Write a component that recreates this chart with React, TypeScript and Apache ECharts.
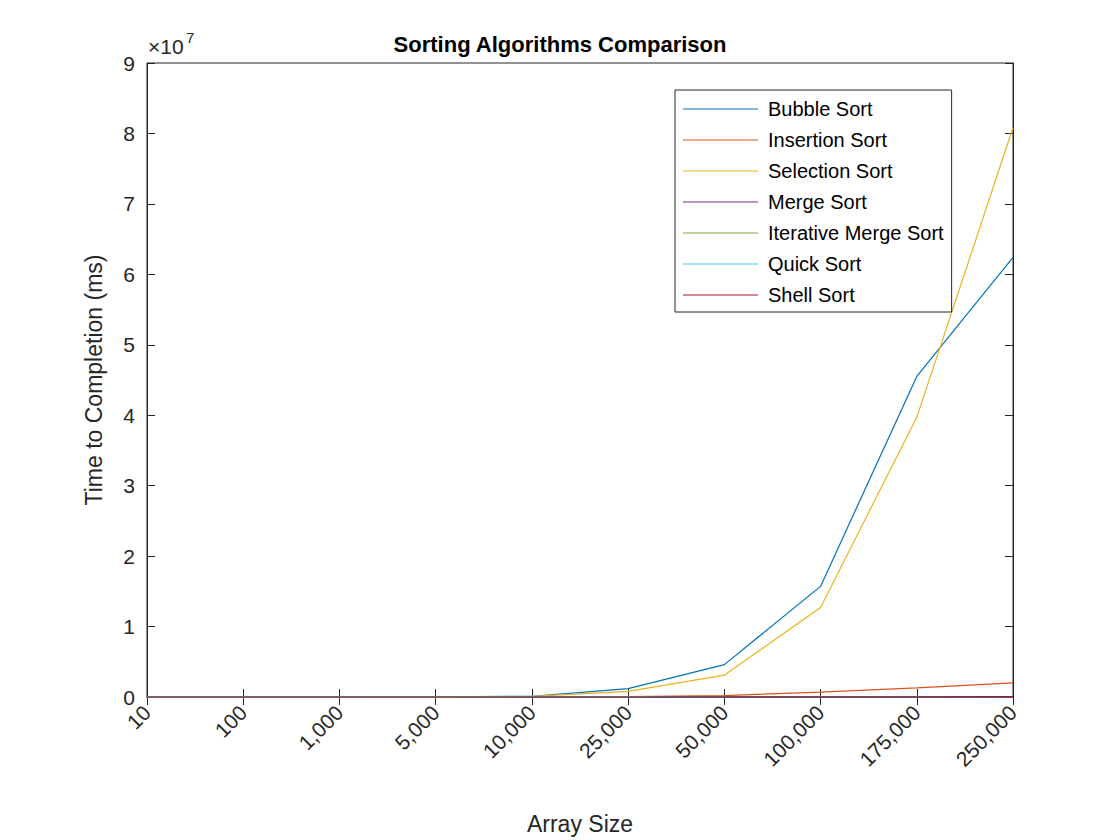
import React, { useEffect, useRef } from "react";
import * as echarts from "echarts";

const categories = ["10", "100", "1,000", "5,000", "10,000", "25,000", "50,000", "100,000", "175,000", "250,000"];
const bubble = [0, 0, 0, 20000, 100000, 1200000, 4600000, 15700000, 45500000, 62400000];
const insertion = [0, 0, 0, 5000, 20000, 60000, 200000, 700000, 1300000, 2000000];
const selection = [0, 0, 0, 15000, 80000, 800000, 3100000, 12700000, 39700000, 80800000];
const merge = [0, 0, 0, 0, 1000, 3000, 6000, 12000, 22000, 30000];
const iterMerge = [0, 0, 0, 0, 1000, 2500, 5000, 10000, 20000, 28000];
const quick = [0, 0, 0, 0, 800, 2000, 4000, 8000, 15000, 22000];
const shell = [0, 0, 0, 0, 1000, 3000, 7000, 15000, 28000, 40000];
const yTicks = [0, 1, 2, 3, 4, 5, 6, 7, 8, 9];

const names = ["Bubble Sort", "Insertion Sort", "Selection Sort", "Merge Sort", "Iterative Merge Sort", "Quick Sort", "Shell Sort"];
const colors = ["#0072BD", "#D95319", "#EDB120", "#7E2F8E", "#77AC30", "#4DBEEE", "#A2142F"];
const datasets = [bubble, insertion, selection, merge, iterMerge, quick, shell];

export default function App() {
  const ref = useRef<HTMLDivElement>(null);
  useEffect(() => {
    document.body.style.margin = "0";
    const chart = echarts.init(ref.current!, null, { renderer: "svg" });
    const font = "Liberation Sans, Arial, sans-serif";
    const axisLine = { show: true, lineStyle: { color: "#262626", width: 1 } };
    const tick = { show: true, inside: true, length: 8, lineStyle: { color: "#262626" } };
    chart.setOption({
      animation: false,
      textStyle: { fontFamily: font },
      title: {
        text: "Sorting Algorithms Comparison",
        left: "center",
        top: 28,
        textStyle: { fontSize: 22, fontWeight: "bold", color: "#000", fontFamily: font },
      },
      grid: { left: 147, right: 107, top: 63, bottom: 143, show: true, borderColor: "#262626", borderWidth: 1, backgroundColor: "transparent" },
      legend: {
        orient: "vertical",
        left: 675,
        top: 90,
        data: names,
        icon: "rect",
        itemWidth: 75,
        itemHeight: 1.2,
        itemGap: 11,
        padding: [9, 8, 7, 8],
        borderColor: "#262626",
        borderWidth: 1,
        backgroundColor: "#fff",
        textStyle: { fontSize: 20, color: "#000", fontFamily: font, padding: [0, 0, 0, 5] },
      },
      xAxis: [
        {
          type: "category",
          data: categories,
          boundaryGap: false,
          axisLine,
          axisTick: tick,
          axisLabel: { rotate: 45, fontSize: 21, color: "#262626", margin: 12, fontFamily: font },
          name: "Array Size",
          nameLocation: "middle",
          nameGap: 115,
          nameTextStyle: { fontSize: 23, color: "#262626", fontFamily: font },
          splitLine: { show: false },
        },
        {
          type: "category",
          data: categories,
          boundaryGap: false,
          position: "top",
          axisLine,
          axisTick: tick,
          axisLabel: { show: false },
        },
      ],
      yAxis: [
        {
          type: "value",
          min: 0,
          max: 90000000,
          interval: 10000000,
          axisLine,
          axisTick: tick,
          axisLabel: {
            fontSize: 21,
            color: "#262626",
            margin: 12,
            fontFamily: font,
            formatter: (v: number) => String(yTicks[Math.round(v / 1e7)]),
          },
          splitLine: { show: false },
          name: "Time to Completion (ms)",
          nameLocation: "middle",
          nameGap: 42,
          nameTextStyle: { fontSize: 23, color: "#262626", fontFamily: font },
        },
        {
          type: "value",
          min: 0,
          max: 90000000,
          interval: 10000000,
          position: "right",
          axisLine,
          axisTick: tick,
          axisLabel: { show: false },
          splitLine: { show: false },
        },
      ],
      graphic: [
        {
          type: "text",
          left: 148,
          top: 36,
          style: { text: "×10", fontSize: 21, fill: "#262626", fontFamily: font },
        },
        {
          type: "text",
          left: 186,
          top: 30,
          style: { text: "7", fontSize: 15, fill: "#262626", fontFamily: font },
        },
      ],
      series: [
        ...datasets.map((d, i) => ({
          name: names[i],
          type: "line",
          data: d,
          symbol: "none",
          lineStyle: { color: colors[i], width: 1.2 },
          itemStyle: { color: colors[i] },
        })),
        { type: "line", xAxisIndex: 1, yAxisIndex: 1, data: [], symbol: "none" },
      ],
    });
    return () => chart.dispose();
  }, []);
  return <div ref={ref} style={{ width: 1120, height: 840 }} />;
}
